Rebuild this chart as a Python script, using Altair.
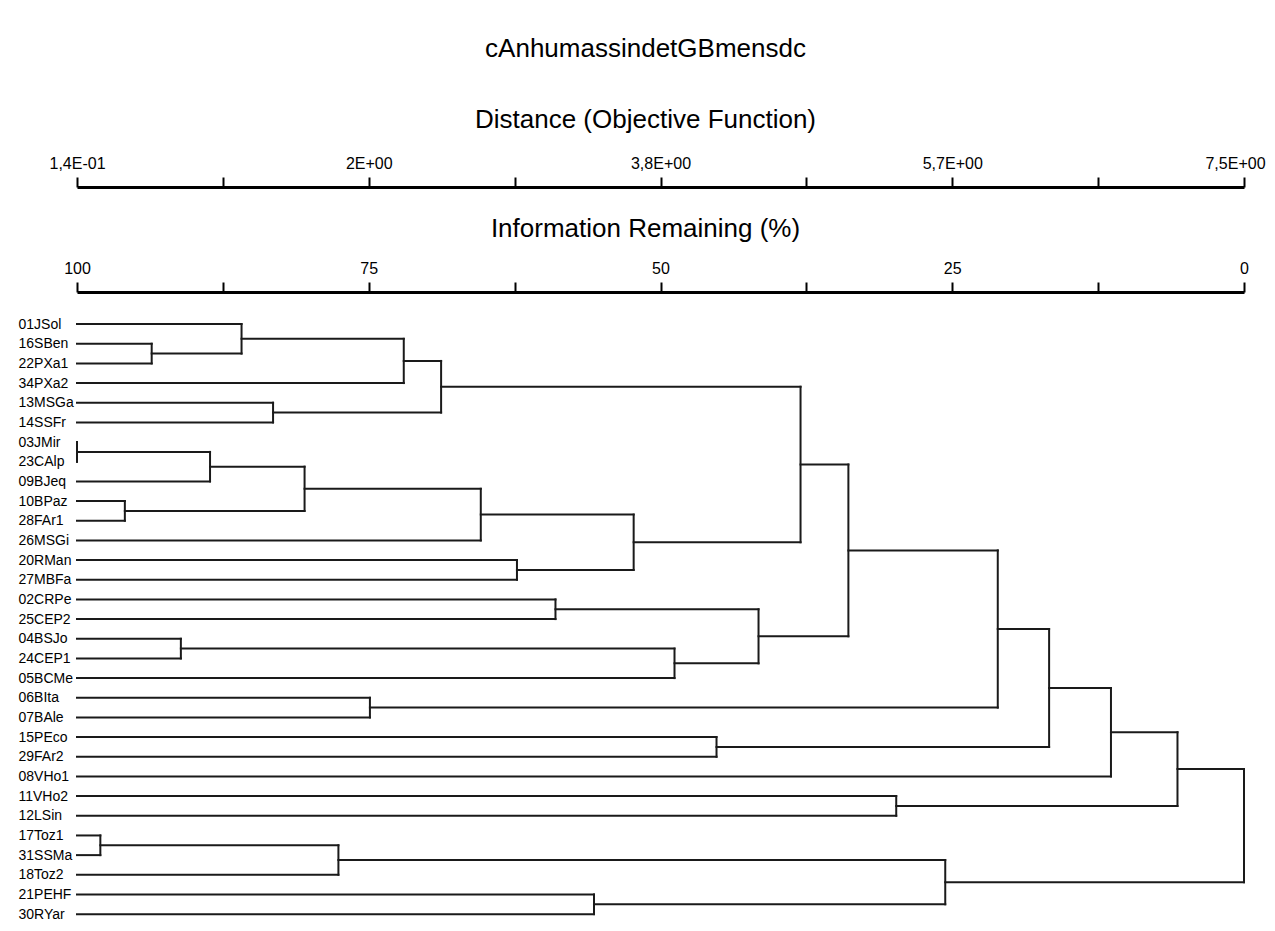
import json
import altair as alt
import pandas as pd

# ---- data ----
leaves = ["01JSol", "16SBen", "22PXa1", "34PXa2", "13MSGa", "14SSFr", "03JMir",
          "23CAlp", "09BJeq", "10BPaz", "28FAr1", "26MSGi", "20RMan", "27MBFa",
          "02CRPe", "25CEP2", "04BSJo", "24CEP1", "05BCMe", "06BIta", "07BAle",
          "15PEco", "29FAr2", "08VHo1", "11VHo2", "12LSin", "17Toz1", "31SSMa",
          "18Toz2", "21PEHF", "30RYar"]

# merge k joins merge_a[k] and merge_b[k] at Information Remaining (%) = merge_h[k]
merge_a = ["16SBen", "01JSol", "m1", "13MSGa", "m2", "03JMir", "m5", "10BPaz", "m6",
           "m8", "20RMan", "m9", "m4", "02CRPe", "04BSJo", "m14", "m13", "m12",
           "06BIta", "m17", "15PEco", "m19", "m21", "11VHo2", "m22", "17Toz1",
           "m25", "21PEHF", "m26", "m24"]
merge_b = ["22PXa1", "m0", "34PXa2", "14SSFr", "m3", "23CAlp", "09BJeq", "28FAr1", "m7",
           "26MSGi", "27MBFa", "m10", "m11", "25CEP2", "24CEP1", "05BCMe", "m15", "m16",
           "07BAle", "m18", "29FAr2", "m20", "08VHo1", "12LSin", "m23", "31SSMa",
           "18Toz2", "30RYar", "m27", "m28"]
merge_h = [93.6, 85.9, 72.0, 83.2, 68.8, 100.0, 88.6, 95.9, 80.5,
           65.4, 62.3, 52.3, 38.0, 59.0, 91.1, 48.8, 41.6, 33.9,
           74.9, 21.1, 45.2, 16.7, 11.4, 29.8, 5.7, 98.0,
           77.6, 55.7, 25.6, 0.0]

info_ticks = [100, 87.5, 75, 62.5, 50, 37.5, 25, 12.5, 0]
dist_labels = ["1,4E-01", "2E+00", "3,8E+00", "5,7E+00", "7,5E+00"]

title_text = "cAnhumassindetGBmensdc"

# ---- build dendrogram segments ----
pos = {n: float(i) for i, n in enumerate(leaves)}
hgt = {n: 100.0 for n in leaves}
hseg, vseg = [], []
for k, (a, b, h) in enumerate(zip(merge_a, merge_b, merge_h)):
    ya, yb = pos[a], pos[b]
    hseg.append({"x": hgt[a], "x2": h, "y": ya})
    hseg.append({"x": hgt[b], "x2": h, "y": yb})
    vseg.append({"x": h, "y": ya, "y2": yb})
    pos[f"m{k}"] = (ya + yb) / 2
    hgt[f"m{k}"] = h

hdf = pd.DataFrame(hseg)
vdf = pd.DataFrame(vseg)

FONT = "Liberation Sans, Arial, sans-serif"
LINE = "#1a1a1a"

xscale = alt.Scale(domain=[0, 100], reverse=True, nice=False, zero=False)
yscale = alt.Scale(domain=[-1.63, 30.40], reverse=True, nice=False, zero=False)

yaxis = alt.Axis(values=list(range(len(leaves))),
                 labelExpr=json.dumps(leaves) + "[datum.value]",
                 domain=False, ticks=False, grid=False, title=None,
                 labelAlign="left", labelBaseline="middle", labelPadding=59,
                 labelFont=FONT, labelFontSize=14, labelColor="black",
                 labelOverlap=False, labelFlush=False)

common_axis = dict(values=info_ticks, grid=False, orient="top",
                   domainColor="black", domainWidth=3, tickColor="black",
                   tickWidth=2, tickSize=10, labelPadding=6, labelFont=FONT,
                   labelFontSize=16, labelColor="black", labelFlush=False,
                   labelOverlap=False, titleFont=FONT, titleFontSize=26,
                   titleFontWeight="normal", titleColor="black",
                   titleX=568, titleAlign="center")

info_axis = alt.Axis(title="Information Remaining (%)",
                     labelExpr="datum.value % 25 == 0 ? datum.label : ''",
                     titlePadding=19, **common_axis)
dist_axis = alt.Axis(title="Distance (Objective Function)",
                     labelExpr="datum.value % 25 == 0 ? "
                     + json.dumps(dist_labels)
                     + "[(100 - datum.value) / 25] : ''",
                     # nudge the last label so it stays inside the page edge
                     labelOffset={"condition": {"test": "datum.value == 0", "value": -9},
                                  "value": 0},
                     offset=105, titlePadding=23, **common_axis)

horiz = alt.Chart(hdf).mark_rule(color=LINE, strokeWidth=2, strokeCap="square").encode(
    x=alt.X("x:Q", scale=xscale, axis=info_axis),
    x2="x2:Q",
    y=alt.Y("y:Q", scale=yscale, axis=yaxis),
)
vert = alt.Chart(vdf).mark_rule(color=LINE, strokeWidth=2, strokeCap="square").encode(
    x=alt.X("x:Q", scale=xscale, axis=dist_axis),
    y=alt.Y("y:Q", scale=yscale, axis=yaxis),
    y2="y2:Q",
)

chart = alt.layer(horiz, vert).resolve_axis(x="independent").properties(
    width=1167, height=630,
    background="white",
    title=alt.TitleParams(title_text, font=FONT, fontSize=26, fontWeight="normal",
                          color="black", anchor="middle", dx=-15, offset=44),
    autosize=alt.AutoSizeParams(type="none"),
    padding={"left": 69, "top": 284, "right": 23, "bottom": 0},
).configure_view(stroke=None)

chart.save("out.html", embed_options={"renderer": "svg", "actions": False})
